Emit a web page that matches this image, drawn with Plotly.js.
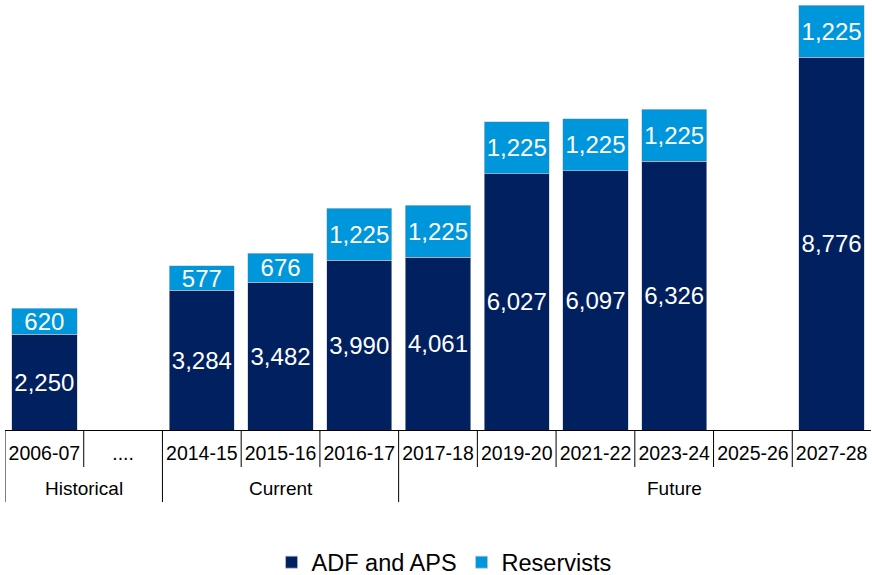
<!DOCTYPE html>
<html>
<head>
<meta charset="utf-8">
<script src="https://cdn.plot.ly/plotly-3.0.1.min.js"></script>
<style>html,body{margin:0;padding:0;background:#fff;}#chart{width:872px;height:575px;}</style>
</head>
<body>
<div id="chart"></div>
<script>
const categories = ["2006-07", "....", "2014-15", "2015-16", "2016-17", "2017-18", "2019-20", "2021-22", "2023-24", "2025-26", "2027-28"];
const adfAps = [2250, null, 3284, 3482, 3990, 4061, 6027, 6097, 6326, null, 8776];
const reservists = [620, null, 577, 676, 1225, 1225, 1225, 1225, 1225, null, 1225];
const groupNames = ["Historical", "Current", "Future"];
const groupStarts = [0, 2, 5];
const groupLabelPos = [0.5, 3, 8];

const fmt = v => v == null ? "" : v.toLocaleString("en-US");
const idx = categories.map((c, i) => i);
const FONT = "Liberation Sans, Arial, sans-serif";

const common = {
  type: "bar",
  x: idx,
  textposition: "inside",
  insidetextanchor: "middle",
  constraintext: "none",
  textangle: 0,
  textfont: {family: FONT, size: 24, color: "#ffffff"},
  hoverinfo: "skip",
  cliponaxis: false
};

const traces = [
  Object.assign({}, common, {
    name: "ADF and APS",
    y: adfAps,
    text: adfAps.map(fmt),
    marker: {color: "#002060", line: {color: "#c8c8c8", width: 0.6}}
  }),
  Object.assign({}, common, {
    name: "Reservists",
    y: reservists,
    text: reservists.map(fmt),
    marker: {color: "#0096DC", line: {color: "#c8c8c8", width: 0.6}}
  })
];

const shapes = [];
const shortLen = -37 / 425;
const longLen = -72 / 425;
for (let i = 0; i < categories.length; i++) {
  const isGroup = groupStarts.includes(i);
  shapes.push({
    type: "line", xref: "x", yref: "paper",
    x0: i - 0.5, x1: i - 0.5, y0: 0, y1: isGroup ? longLen : shortLen,
    line: {color: "#000000", width: 1}
  });
}

const annotations = groupNames.map((g, k) => ({
  text: g, xref: "x", yref: "paper", x: groupLabelPos[k], y: -58 / 425,
  showarrow: false, xanchor: "center", yanchor: "middle",
  font: {family: FONT, size: 19, color: "#000000"}
}));

const layout = {
  width: 872, height: 575,
  margin: {l: 5, r: 1, t: 5, b: 145},
  barmode: "stack",
  bargap: 0.17,
  paper_bgcolor: "#ffffff",
  plot_bgcolor: "#ffffff",
  showlegend: true,
  legend: {
    orientation: "h", x: 0.507, xanchor: "center",
    yref: "container", y: 0.022, yanchor: "middle",
    font: {family: FONT, size: 23.5, color: "#000000"},
    itemwidth: 30, traceorder: "normal"
  },
  xaxis: {
    type: "linear",
    range: [-0.5, categories.length - 0.5],
    tickmode: "array",
    tickvals: idx,
    ticktext: categories,
    ticks: "",
    showgrid: false,
    zeroline: false,
    showline: true,
    linecolor: "#000000",
    linewidth: 1,
    ticklabelstandoff: 6,
    tickfont: {family: FONT, size: 19.5, color: "#000000"},
    fixedrange: true
  },
  yaxis: {
    range: [0, 10001],
    visible: false,
    showgrid: false,
    zeroline: false,
    fixedrange: true
  },
  shapes: shapes,
  annotations: annotations
};

Plotly.newPlot("chart", traces, layout, {displayModeBar: false, staticPlot: true});
</script>
</body>
</html>
